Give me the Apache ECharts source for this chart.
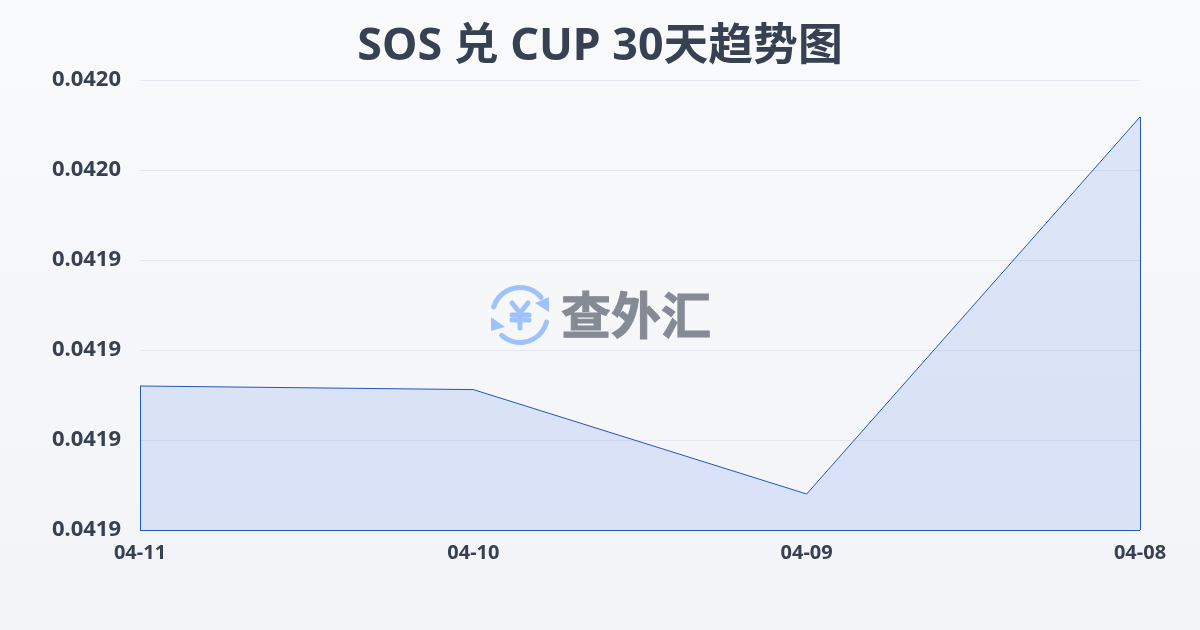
<!DOCTYPE html>
<html><head><meta charset="utf-8">
<style>html,body{margin:0;padding:0;background:#f5f7fa}#c{width:1200px;height:630px}</style>
<script src="https://cdn.jsdelivr.net/npm/echarts@6/dist/echarts.min.js"></script>
</head><body><div id="c"></div>
<script>
const titleText = 'SOS 兑 CUP 30天趋势图';
const watermarkText = '查外汇';
const categories = ['04-11', '04-10', '04-09', '04-08'];
const rates = [0.04191200, 0.04191120, 0.04188800, 0.04197178];
const yMin = 0.04188, yMax = 0.04198, yStep = 0.00002;
const font = '"Noto Sans","Noto Sans CJK SC",sans-serif';
const ink = '#374151', lineBlue = '#2456bb', wmBlue = '#9fc2fb', wmGrey = '#858b95';

const edge = (cat, val) => [{coord:[cat, yMin]},{coord:[cat, val]}];
const iconArc = (a, b) => ({type:'arc', shape:{cx:520,cy:315,r:27.5,startAngle:a*Math.PI/180,endAngle:b*Math.PI/180},
  style:{fill:null,stroke:wmBlue,lineWidth:5,lineCap:'round'}, z:5});
const yenStroke = (x1,y1,x2,y2) => ({type:'line',shape:{x1,y1,x2,y2},style:{stroke:wmBlue,lineWidth:5,lineCap:'round'},z:5});
const chart = echarts.init(document.getElementById('c'), null, {renderer:'canvas'});
chart.setOption({
  animation:false,
  backgroundColor:{type:'linear',x:0,y:0,x2:0,y2:1,colorStops:[{offset:0,color:'#f8fafc'},{offset:1,color:'#f2f4f7'}]},
  title:{text:titleText,left:'center',top:20,textStyle:{fontFamily:font,fontSize:44.8,fontWeight:'bold',color:ink}},
  grid:{left:140,right:60,top:80,bottom:100},
  xAxis:{type:'category',data:categories,boundaryGap:false,
    axisLine:{show:false},axisTick:{show:false},splitLine:{show:false},
    axisLabel:{fontFamily:font,fontSize:20,fontWeight:'bold',color:ink,margin:13,showMinLabel:true,showMaxLabel:true,interval:0}},
  yAxis:{type:'value',min:yMin,max:yMax,interval:yStep,
    axisLine:{show:false},axisTick:{show:false},
    splitLine:{lineStyle:{color:'#e4e8ee',width:1}},
    axisLabel:{fontFamily:font,fontSize:22,fontWeight:'bold',color:ink,margin:19,verticalAlign:'middle',lineHeight:22,padding:[0,0,3,0],
      formatter:v=>v.toFixed(4)}},
  graphic:[
    iconArc(197,320), iconArc(15,132),
    {type:'polygon',shape:{points:[[535,303],[549,297],[549,312]]},style:{fill:wmBlue},z:5},
    {type:'polygon',shape:{points:[[505,327],[491,317],[491,331]]},style:{fill:wmBlue},z:5},
    yenStroke(512,303,520,313), yenStroke(528,303,520,313), yenStroke(520,313,520,328),
    yenStroke(512,315,529,315), yenStroke(512,320,529,320),
    {type:'text',style:{text:watermarkText,x:636,y:315,align:'center',verticalAlign:'middle',font:'bold 50px "Noto Sans CJK SC"',fill:wmGrey,stroke:wmGrey,lineWidth:1},z:5}
  ],
  series:[{type:'line',data:rates,symbol:'none',smooth:false,
    lineStyle:{color:lineBlue,width:1},
    areaStyle:{color:'rgba(37,99,235,0.18)',origin:'start'},
    markLine:{silent:true,symbol:'none',label:{show:false},lineStyle:{color:lineBlue,width:1,type:'solid'},
      data:[edge(categories[0],rates[0]),edge(categories[3],rates[3]),
        [{coord:[categories[0],yMin]},{coord:[categories[3],yMin]}]]}
  }]
});
</script></body></html>
